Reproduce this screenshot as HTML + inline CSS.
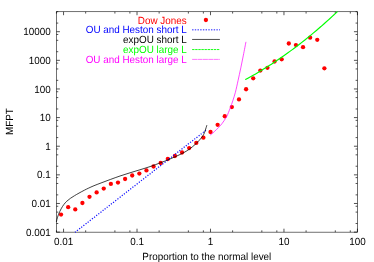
<!DOCTYPE html>
<html><head><meta charset="utf-8"><title>MFPT</title>
<style>
html,body{margin:0;padding:0;background:#fff;}
body{width:374px;height:262px;overflow:hidden;}
svg{display:block;will-change:transform;}
text{font-family:"Liberation Sans",sans-serif;font-size:9.9px;text-rendering:geometricPrecision;}
</style></head><body>
<svg width="374" height="262" viewBox="0 0 374 262">
<rect width="374" height="262" fill="#fff"/>

<rect x="56.45" y="11.75" width="300.95" height="220.40" stroke="#000" stroke-width="0.56" fill="none"/>
<path d="M56.43 232.15v-1.8M56.43 11.75v1.8M63.55 232.15v-3.45M63.55 11.75v3.45M85.67 232.15v-1.8M85.67 11.75v1.8M114.90 232.15v-1.8M114.90 11.75v1.8M129.90 232.15v-1.8M129.90 11.75v1.8M137.02 232.15v-3.45M137.02 11.75v3.45M159.14 232.15v-1.8M159.14 11.75v1.8M188.37 232.15v-1.8M188.37 11.75v1.8M203.37 232.15v-1.8M203.37 11.75v1.8M210.49 232.15v-3.45M210.49 11.75v3.45M232.61 232.15v-1.8M232.61 11.75v1.8M261.84 232.15v-1.8M261.84 11.75v1.8M276.84 232.15v-1.8M276.84 11.75v1.8M283.96 232.15v-3.45M283.96 11.75v3.45M306.08 232.15v-1.8M306.08 11.75v1.8M335.31 232.15v-1.8M335.31 11.75v1.8M350.31 232.15v-1.8M350.31 11.75v1.8M357.43 232.15v-3.45M357.43 11.75v3.45M56.45 232.11h3.45M357.4 232.11h-3.45M56.45 223.49h1.8M357.4 223.49h-1.8M56.45 212.10h1.8M357.4 212.10h-1.8M56.45 206.25h1.8M357.4 206.25h-1.8M56.45 203.48h3.45M357.4 203.48h-3.45M56.45 194.86h1.8M357.4 194.86h-1.8M56.45 183.47h1.8M357.4 183.47h-1.8M56.45 177.62h1.8M357.4 177.62h-1.8M56.45 174.85h3.45M357.4 174.85h-3.45M56.45 166.23h1.8M357.4 166.23h-1.8M56.45 154.84h1.8M357.4 154.84h-1.8M56.45 148.99h1.8M357.4 148.99h-1.8M56.45 146.22h3.45M357.4 146.22h-3.45M56.45 137.60h1.8M357.4 137.60h-1.8M56.45 126.21h1.8M357.4 126.21h-1.8M56.45 120.36h1.8M357.4 120.36h-1.8M56.45 117.59h3.45M357.4 117.59h-3.45M56.45 108.97h1.8M357.4 108.97h-1.8M56.45 97.58h1.8M357.4 97.58h-1.8M56.45 91.73h1.8M357.4 91.73h-1.8M56.45 88.96h3.45M357.4 88.96h-3.45M56.45 80.34h1.8M357.4 80.34h-1.8M56.45 68.95h1.8M357.4 68.95h-1.8M56.45 63.10h1.8M357.4 63.10h-1.8M56.45 60.33h3.45M357.4 60.33h-3.45M56.45 51.71h1.8M357.4 51.71h-1.8M56.45 40.32h1.8M357.4 40.32h-1.8M56.45 34.47h1.8M357.4 34.47h-1.8M56.45 31.70h3.45M357.4 31.70h-3.45M56.45 23.08h1.8M357.4 23.08h-1.8M56.45 11.69h1.8M357.4 11.69h-1.8" stroke="#000" stroke-width="0.68" fill="none"/>
<text transform="translate(63.55,245.10) scale(1,1.05)" text-anchor="middle">0.01</text>
<text transform="translate(137.02,245.10) scale(1,1.05)" text-anchor="middle">0.1</text>
<text transform="translate(210.49,245.10) scale(1,1.05)" text-anchor="middle">1</text>
<text transform="translate(283.96,245.10) scale(1,1.05)" text-anchor="middle">10</text>
<text transform="translate(357.43,245.10) scale(1,1.05)" text-anchor="middle">100</text>
<text transform="translate(50.75,235.66) scale(1,1.05)" text-anchor="end">0.001</text>
<text transform="translate(50.75,207.33) scale(1,1.05)" text-anchor="end">0.01</text>
<text transform="translate(50.75,178.40) scale(1,1.05)" text-anchor="end">0.1</text>
<text transform="translate(50.75,150.07) scale(1,1.05)" text-anchor="end">1</text>
<text transform="translate(50.75,121.44) scale(1,1.05)" text-anchor="end">10</text>
<text transform="translate(50.75,92.81) scale(1,1.05)" text-anchor="end">100</text>
<text transform="translate(50.75,63.78) scale(1,1.05)" text-anchor="end">1000</text>
<text transform="translate(50.75,34.85) scale(1,1.05)" text-anchor="end">10000</text>
<text transform="translate(206.80,260.20) scale(1,1.05)" text-anchor="middle">Proportion to the normal level</text>
<text transform="translate(12.50,121.60) rotate(-90) scale(1,1.05)" text-anchor="middle">MFPT</text>
<circle cx="61.05" cy="214.6" r="2.15" fill="#ff0000"/>
<circle cx="68.17" cy="207.2" r="2.15" fill="#ff0000"/>
<circle cx="75.28" cy="209.4" r="2.15" fill="#ff0000"/>
<circle cx="82.40" cy="203.0" r="2.15" fill="#ff0000"/>
<circle cx="89.52" cy="196.8" r="2.15" fill="#ff0000"/>
<circle cx="96.63" cy="192.4" r="2.15" fill="#ff0000"/>
<circle cx="103.75" cy="188.6" r="2.15" fill="#ff0000"/>
<circle cx="110.87" cy="183.9" r="2.15" fill="#ff0000"/>
<circle cx="117.99" cy="182.6" r="2.15" fill="#ff0000"/>
<circle cx="125.10" cy="179.0" r="2.15" fill="#ff0000"/>
<circle cx="132.22" cy="175.5" r="2.15" fill="#ff0000"/>
<circle cx="139.34" cy="173.6" r="2.15" fill="#ff0000"/>
<circle cx="146.45" cy="170.4" r="2.15" fill="#ff0000"/>
<circle cx="153.57" cy="166.5" r="2.15" fill="#ff0000"/>
<circle cx="160.69" cy="163.0" r="2.15" fill="#ff0000"/>
<circle cx="167.81" cy="159.0" r="2.15" fill="#ff0000"/>
<circle cx="174.92" cy="156.0" r="2.15" fill="#ff0000"/>
<circle cx="182.04" cy="152.5" r="2.15" fill="#ff0000"/>
<circle cx="189.16" cy="148.1" r="2.15" fill="#ff0000"/>
<circle cx="196.27" cy="142.9" r="2.15" fill="#ff0000"/>
<circle cx="203.39" cy="137.7" r="2.15" fill="#ff0000"/>
<circle cx="210.51" cy="132.0" r="2.15" fill="#ff0000"/>
<circle cx="217.62" cy="124.85" r="2.15" fill="#ff0000"/>
<circle cx="224.74" cy="116.25" r="2.15" fill="#ff0000"/>
<circle cx="231.86" cy="107.05" r="2.15" fill="#ff0000"/>
<circle cx="238.98" cy="99.4" r="2.15" fill="#ff0000"/>
<circle cx="246.09" cy="89.25" r="2.15" fill="#ff0000"/>
<circle cx="253.21" cy="78.3" r="2.15" fill="#ff0000"/>
<circle cx="260.33" cy="70.6" r="2.15" fill="#ff0000"/>
<circle cx="267.44" cy="67.8" r="2.15" fill="#ff0000"/>
<circle cx="274.56" cy="61.5" r="2.15" fill="#ff0000"/>
<circle cx="281.68" cy="59.3" r="2.15" fill="#ff0000"/>
<circle cx="288.79" cy="43.5" r="2.15" fill="#ff0000"/>
<circle cx="295.91" cy="45.1" r="2.15" fill="#ff0000"/>
<circle cx="303.03" cy="47.15" r="2.15" fill="#ff0000"/>
<circle cx="310.14" cy="37.65" r="2.15" fill="#ff0000"/>
<circle cx="317.26" cy="39.85" r="2.15" fill="#ff0000"/>
<circle cx="324.38" cy="68.3" r="2.15" fill="#ff0000"/>
<path d="M75.00 232.30C96.93 215.21 184.67 146.83 206.60 129.74" fill="none" stroke="#0000ff" stroke-width="1.25" stroke-dasharray="1.15 1.55" stroke-opacity="0.95"/>
<path d="M56.35 222.00C56.44 221.60 56.54 220.87 56.90 219.60C57.26 218.33 57.79 216.20 58.50 214.40C59.21 212.60 60.27 210.43 61.15 208.80C62.03 207.17 62.88 205.85 63.80 204.60C64.72 203.35 65.62 202.33 66.70 201.30C67.78 200.27 69.00 199.33 70.30 198.40C71.60 197.47 73.05 196.58 74.50 195.70C75.95 194.82 77.35 194.02 79.00 193.10C80.65 192.18 82.87 191.00 84.40 190.20C85.93 189.40 86.60 189.05 88.20 188.30C89.80 187.55 92.03 186.52 94.00 185.70C95.97 184.88 98.33 183.99 100.00 183.35C101.67 182.71 102.22 182.52 104.00 181.85C105.78 181.18 108.03 180.32 110.70 179.35C113.37 178.38 116.78 177.09 120.00 176.00C123.22 174.91 126.67 173.84 130.00 172.80C133.33 171.76 136.67 170.78 140.00 169.75C143.33 168.72 146.55 167.78 150.00 166.60C153.45 165.42 157.77 163.80 160.70 162.70C163.63 161.60 165.20 160.98 167.60 160.00C170.00 159.02 172.57 157.95 175.10 156.80C177.63 155.65 180.45 154.35 182.80 153.10C185.15 151.85 187.00 150.87 189.20 149.30C191.40 147.73 193.99 145.58 196.00 143.70C198.01 141.82 199.97 139.55 201.25 138.00C202.53 136.45 203.03 135.67 203.70 134.40C204.37 133.13 204.72 131.93 205.25 130.40C205.78 128.87 206.59 126.07 206.86 125.20" fill="none" stroke="#000" stroke-width="0.75" />
<path d="M245.20 79.58C245.87 79.22 247.87 78.16 249.20 77.43C250.53 76.70 251.87 75.96 253.20 75.20C254.53 74.45 255.87 73.68 257.20 72.90C258.53 72.12 259.87 71.33 261.20 70.53C262.53 69.73 263.87 68.91 265.20 68.09C266.53 67.26 267.87 66.42 269.20 65.57C270.53 64.72 271.87 63.86 273.20 62.98C274.53 62.11 275.87 61.22 277.20 60.32C278.53 59.43 279.87 58.51 281.20 57.59C282.53 56.67 283.87 55.74 285.20 54.79C286.53 53.84 287.87 52.88 289.20 51.91C290.53 50.94 291.87 49.96 293.20 48.97C294.53 47.97 295.87 46.97 297.20 45.95C298.53 44.93 299.87 43.90 301.20 42.86C302.53 41.81 303.87 40.76 305.20 39.69C306.53 38.63 307.87 37.55 309.20 36.46C310.53 35.37 311.87 34.27 313.20 33.15C314.53 32.04 315.87 30.91 317.20 29.77C318.53 28.63 319.87 27.48 321.20 26.32C322.53 25.16 323.87 23.98 325.20 22.80C326.53 21.61 327.87 20.41 329.20 19.20C330.53 17.99 331.87 16.77 333.20 15.54C334.53 14.30 336.53 12.43 337.20 11.80C337.87 11.17 337.24 11.76 337.25 11.75" fill="none" stroke="#00ff00" stroke-width="1.15" />
<path d="M210.30 135.00C210.72 134.67 211.78 133.90 212.80 133.00C213.82 132.10 215.13 130.83 216.40 129.60C217.67 128.37 219.13 127.07 220.40 125.60C221.67 124.13 222.90 122.40 224.00 120.80C225.10 119.20 226.27 117.37 227.00 116.00C227.73 114.63 227.83 114.00 228.40 112.60C228.97 111.20 229.67 109.57 230.40 107.60C231.13 105.63 231.97 103.35 232.80 100.80C233.63 98.25 234.53 95.63 235.40 92.30C236.27 88.97 237.10 84.87 238.00 80.80C238.90 76.73 239.90 72.18 240.80 67.90C241.70 63.62 242.54 59.44 243.40 55.10C244.26 50.76 245.53 44.06 245.96 41.85" fill="none" stroke="#ff00ff" stroke-width="0.72" />
<text transform="translate(186.70,23.75) scale(1,1.05)" text-anchor="end" fill="#ff0000">Dow Jones</text>
<text transform="translate(186.70,32.85) scale(1,1.05)" text-anchor="end" fill="#0000ff">OU and Heston short L</text>
<text transform="translate(186.70,43.15) scale(1,1.05)" text-anchor="end" fill="#000">expOU short L</text>
<text transform="translate(186.70,53.05) scale(1,1.05)" text-anchor="end" fill="#00ff00">expOU large L</text>
<text transform="translate(186.70,62.75) scale(1,1.05)" text-anchor="end" fill="#ff00ff">OU and Heston large L</text>
<circle cx="205.9" cy="20.0" r="2.15" fill="#ff0000"/>
<line x1="192.1" x2="220.0" y1="29.65" y2="29.65" stroke="#0000ff" stroke-width="1.5" stroke-dasharray="1.4 1.3" stroke-opacity="0.6"/>
<line x1="192.1" x2="219.9" y1="39.45" y2="39.45" stroke="#000" stroke-width="0.7"/>
<line x1="192.1" x2="219.9" y1="49.55" y2="49.55" stroke="#00ff00" stroke-width="0.9" stroke-dasharray="2.4 0.7"/>
<line x1="192.1" x2="219.9" y1="59.4" y2="59.4" stroke="#ff00ff" stroke-width="0.6" stroke-dasharray="5 0.4" stroke-opacity="0.9"/>
</svg></body></html>
